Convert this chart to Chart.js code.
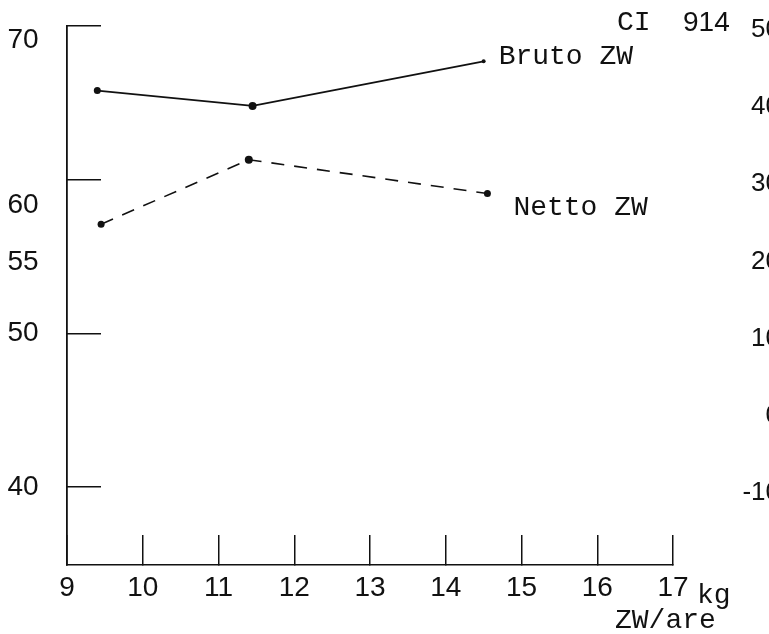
<!DOCTYPE html>
<html lang="nl">
<head>
  <meta charset="UTF-8" />
  <title>Bruto / Netto ZW - CI 914</title>
  <script src="https://cdn.jsdelivr.net/npm/chart.js"></script>
  <style>
    html, body {
      margin: 0;
      padding: 0;
      background: #fff;
      overflow: hidden;
    }
    /* canvas is a bit wider than the window: the right-hand numbers are cut off like on the scan */
    canvas { display: block; }
  </style>
</head>
<body>
  <canvas id="zwChart" width="780" height="634"></canvas>

  <script>
    // kg ZW per are (x) tegen opbrengst (y)
    const brutoX = [9.4, 11.45, 14.5];
    const brutoY = [65.8, 64.8, 67.7];
    const nettoX = [9.45, 11.4, 14.55];
    const nettoY = [57.1, 61.3, 59.1];

    const xTicks = [9, 10, 11, 12, 13, 14, 15, 16, 17];
    const yTicks = [70, 60, 50, 40];
    // the typed numbers on the left do not sit on the tick marks
    const yLabels = ['70', '60', '55', '50', '40'];
    const yLabelAt = [69.1, 58.35, 54.6, 50, 40];
    const rightTicks = [50, 40, 30, 20, 10, 0, -10];

    const SANS = '"Liberation Sans", sans-serif';
    const MONO = '"Liberation Mono", monospace';
    const INK = '#111';

    function toPoints(xs, ys) {
      return xs.map((v, i) => ({ x: v, y: ys[i] }));
    }

    const typedText = {
      id: 'typedText',
      afterDraw(chart) {
        const ctx = chart.ctx;
        const yScale = chart.scales.y;
        const area = chart.chartArea;
        ctx.save();
        ctx.fillStyle = INK;
        ctx.textBaseline = 'middle';

        ctx.font = '28px ' + SANS;
        ctx.textAlign = 'center';
        yLabels.forEach((t, i) => ctx.fillText(t, 23, yScale.getPixelForValue(yLabelAt[i])));
        ctx.textAlign = 'left';
        ctx.fillText('914', area.right + 10, 23);

        ctx.font = '28px ' + MONO;
        ctx.fillText('CI', area.right - 56, 23);

        // series names next to the last point
        const b = chart.getDatasetMeta(0).data.at(-1);
        const n = chart.getDatasetMeta(1).data.at(-1);
        ctx.fillText('Bruto ZW', b.x + 15, b.y - 5);
        ctx.fillText('Netto ZW', n.x + 26, n.y + 14);

        ctx.fillText('kg', area.right + 24, area.bottom + 31);
        ctx.fillText('ZW/are', area.right - 58, area.bottom + 56);
        ctx.restore();
      }
    };

    const ctx = document.getElementById('zwChart').getContext('2d');
    new Chart(ctx, {
      type: 'line',
      data: {
        datasets: [
          {
            label: 'Bruto ZW',
            data: toPoints(brutoX, brutoY),
            borderColor: INK,
            borderWidth: 1.7,
            pointRadius: [3.5, 4, 2],
            pointBackgroundColor: INK,
            pointBorderWidth: 0,
            tension: 0
          },
          {
            label: 'Netto ZW',
            data: toPoints(nettoX, nettoY),
            borderColor: INK,
            borderWidth: 1.6,
            borderDash: [13, 10],
            pointRadius: [3.5, 4, 3.5],
            pointBackgroundColor: INK,
            pointBorderWidth: 0,
            tension: 0
          }
        ]
      },
      options: {
        responsive: false,
        animation: false,
        layout: { padding: { top: 26, left: 0, right: 0, bottom: 0 } },
        plugins: {
          legend: { display: false },
          tooltip: { enabled: false }
        },
        scales: {
          x: {
            type: 'linear',
            min: 9,
            max: 17,
            afterBuildTicks: s => { s.ticks = xTicks.map(v => ({ value: v })); },
            afterFit: s => { s.height = 69; },
            grid: { drawOnChartArea: false, tickLength: -30, color: INK, lineWidth: 1.5 },
            border: { color: INK, width: 1.5 },
            ticks: { color: INK, font: { family: SANS, size: 28 }, padding: 36, maxRotation: 0 }
          },
          y: {
            position: 'left',
            min: 34.93,
            max: 70,
            afterBuildTicks: s => { s.ticks = yTicks.map(v => ({ value: v })); },
            afterFit: s => { s.width = 67; },
            grid: { drawOnChartArea: false, tickLength: -34, color: INK, lineWidth: 1.5 },
            border: { color: INK, width: 1.8 },
            ticks: { display: false }
          },
          y1: {
            position: 'right',
            min: -19.3,
            max: 50.5,
            afterBuildTicks: s => { s.ticks = rightTicks.map(v => ({ value: v })); },
            afterFit: s => { s.width = 107; },
            grid: { display: false },
            border: { display: false },
            ticks: { color: INK, font: { family: SANS, size: 26 }, crossAlign: 'far', padding: 0 }
          }
        }
      },
      plugins: [typedText]
    });
  </script>
</body>
</html>
